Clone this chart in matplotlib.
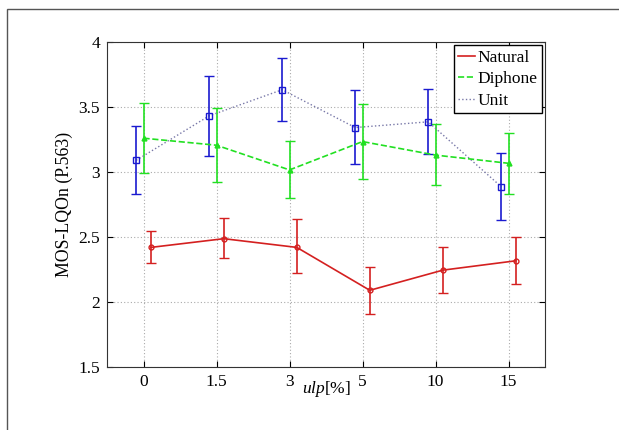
import numpy as np
import matplotlib
matplotlib.use('Agg')
from matplotlib import pyplot as plt
from matplotlib.ticker import FuncFormatter
from matplotlib.patches import Rectangle
from matplotlib.lines import Line2D

matplotlib.rcParams['font.family'] = ['Liberation Serif', 'DejaVu Serif']
matplotlib.rcParams['mathtext.fontset'] = 'custom'
matplotlib.rcParams['mathtext.it'] = 'Liberation Serif:italic'
matplotlib.rcParams['mathtext.rm'] = 'Liberation Serif'

ulp_labels = ['0', '1.5', '3', '5', '10', '15']

natural = [2.42, 2.487, 2.42, 2.09, 2.245, 2.317]
natural_hi = [2.55, 2.643, 2.636, 2.27, 2.42, 2.50]
natural_lo = [2.30, 2.335, 2.22, 1.906, 2.07, 2.137]

diphone = [3.26, 3.206, 3.016, 3.234, 3.13, 3.067]
diphone_hi = [3.527, 3.49, 3.237, 3.52, 3.368, 3.30]
diphone_lo = [2.995, 2.92, 2.80, 2.944, 2.90, 2.83]

unit = [3.09, 3.432, 3.633, 3.342, 3.386, 2.887]
unit_hi = [3.353, 3.74, 3.874, 3.627, 3.635, 3.147]
unit_lo = [2.83, 3.12, 3.39, 3.06, 3.137, 2.628]

x = np.arange(1, len(ulp_labels) + 1)

fig = plt.figure(figsize=(6.19, 4.3), dpi=100)
# outer frame of the original figure
fig.patches.append(Rectangle((7 / 619, -0.1), 1.2, 1 - 9 / 430 + 0.1, transform=fig.transFigure,
                             fill=False, edgecolor='#555555', linewidth=1.0))
ax = fig.add_axes([107 / 619, 1 - 367 / 430, (545 - 107) / 619, (367 - 42) / 430])

red = '#d42020'
green = '#22e022'
blue = '#1a1ad0'
unit_line = '#7878a8'

def err(v, lo, hi):
    v = np.array(v)
    return [v - np.array(lo), np.array(hi) - v]

ax.errorbar(x + 0.1, natural, yerr=err(natural, natural_lo, natural_hi), fmt='-o', color=red,
            markersize=3.5, markerfacecolor='none', linewidth=1.2, capsize=3.6, elinewidth=1.2)
ax.errorbar(x, diphone, yerr=err(diphone, diphone_lo, diphone_hi), fmt='--^', color=green,
            markersize=3.5, linewidth=1.2, capsize=3.6, elinewidth=1.2)
ax.plot(x - 0.1, unit, ':', color=unit_line, linewidth=1.0)
ax.errorbar(x - 0.1, unit, yerr=err(unit, unit_lo, unit_hi), fmt='s', color=blue,
            markersize=4, markerfacecolor='none', capsize=3.6, elinewidth=1.2)

ax.set_xlim(0.5, 6.5)
ax.set_ylim(1.5, 4)
ax.set_xticks(x)
ax.set_xticklabels(ulp_labels)
ax.set_yticks([1.5, 2, 2.5, 3, 3.5, 4])
ax.yaxis.set_major_formatter(FuncFormatter(lambda v, p: '%g' % v))
ax.tick_params(direction='in', top=True, right=True, labelsize=12.5, length=4, pad=5)
ax.grid(True, linestyle=(0, (1, 2)), color='#aaaaaa', linewidth=0.8)
for s in ax.spines.values():
    s.set_color('#333333')
ax.set_xlabel(r'$\mathit{ulp}$[%]', fontsize=12.5, labelpad=-8)
ax.set_ylabel('MOS-LQOn (P.563)', fontsize=12.8, labelpad=4)

handles = [Line2D([], [], color=red, linestyle='-', linewidth=1.2),
           Line2D([], [], color=green, linestyle='--', linewidth=1.2),
           Line2D([], [], color=unit_line, linestyle=':', linewidth=1.0)]
leg = ax.legend(handles, ['Natural', 'Diphone', 'Unit'], loc='upper right', fontsize=12.5,
                handlelength=1.0, handletextpad=0.1, borderaxespad=0.2, fancybox=False,
                edgecolor='black', framealpha=1, borderpad=0.25, labelspacing=0.3)
leg.get_frame().set_linewidth(1.0)

fig.savefig('out.png', dpi=100)
